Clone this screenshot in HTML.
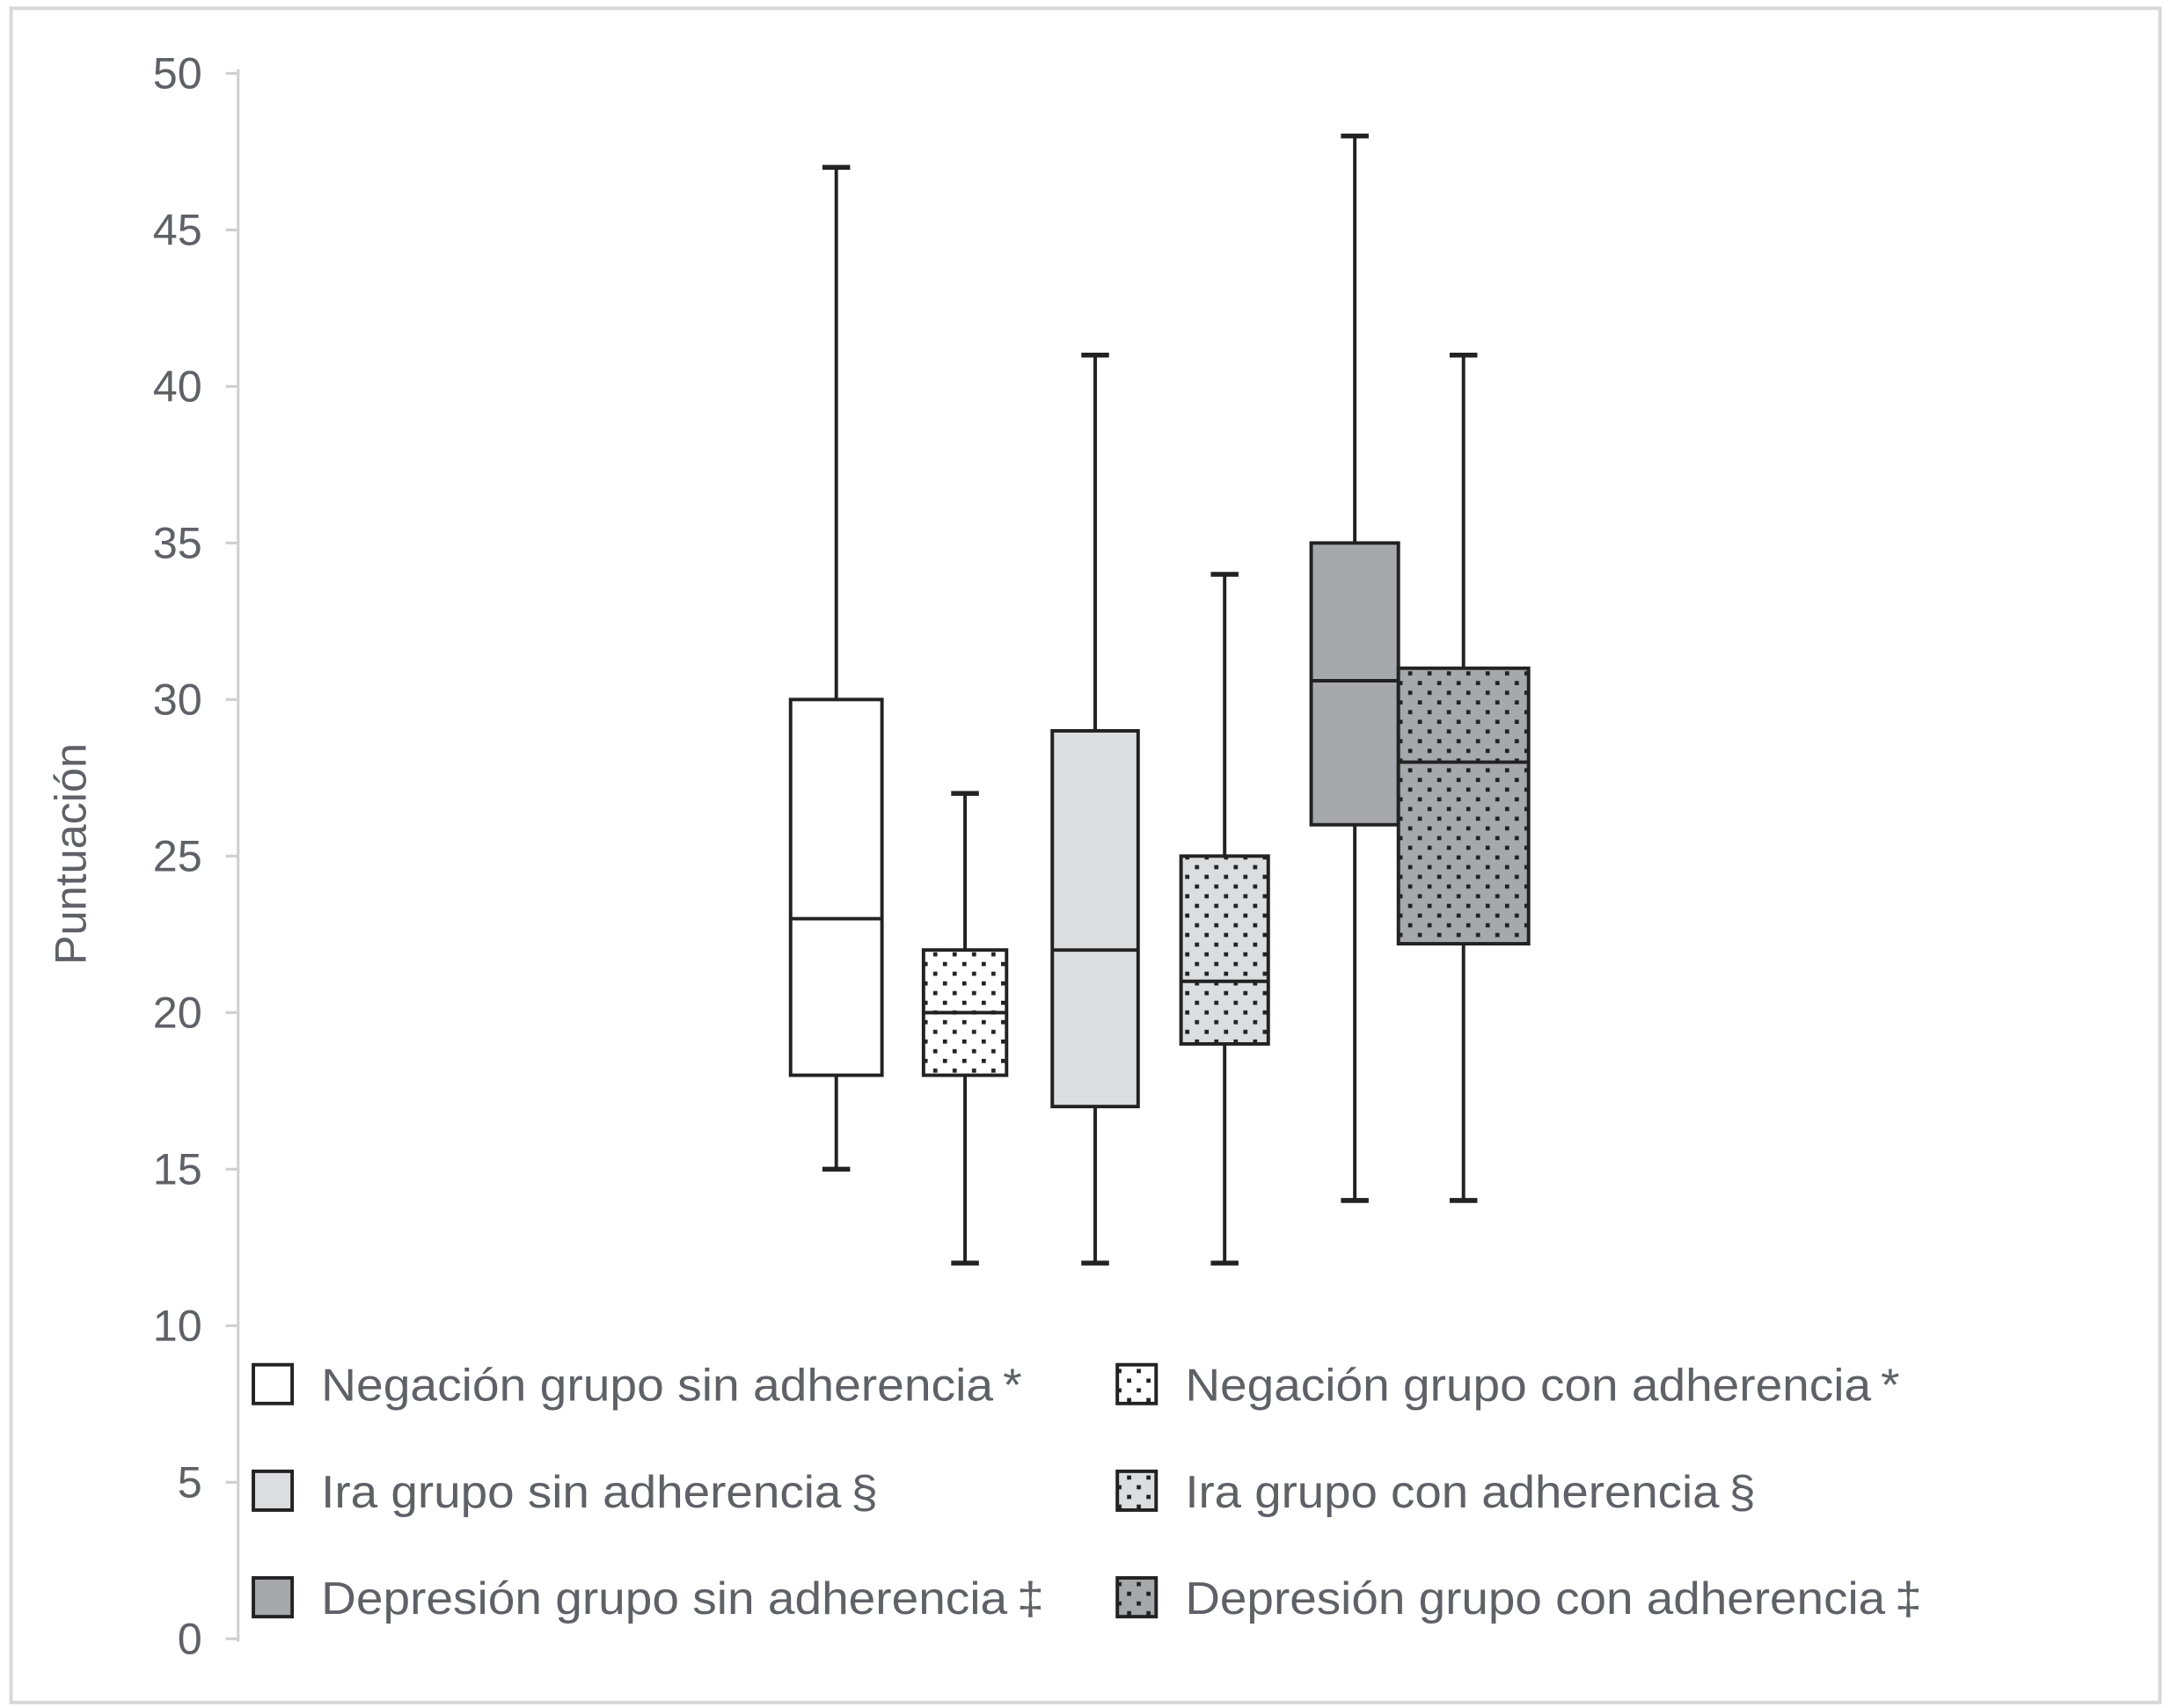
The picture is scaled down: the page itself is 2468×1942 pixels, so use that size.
<!DOCTYPE html>
<html><head><meta charset="utf-8"><style>
html,body{margin:0;padding:0;background:#fff;}
svg{display:block;}
text{font-family:"Liberation Sans",sans-serif;fill:#5f6166;}
</style></head><body>
<svg id="chart" width="2468" height="1942" viewBox="0 0 1568 1234" preserveAspectRatio="none" xmlns="http://www.w3.org/2000/svg">
<defs>
<pattern id="dotsW" width="14" height="14" patternUnits="userSpaceOnUse"><rect width="14" height="14" fill="#fff"/><rect x="2" y="2" width="3" height="3" fill="#222"/><rect x="9" y="9" width="3" height="3" fill="#222"/></pattern>
<pattern id="dotsL" width="14" height="14" patternUnits="userSpaceOnUse"><rect width="14" height="14" fill="#dcdddf"/><rect x="2" y="2" width="3" height="3" fill="#222"/><rect x="9" y="9" width="3" height="3" fill="#222"/></pattern>
<pattern id="dotsD" width="14" height="14" patternUnits="userSpaceOnUse"><rect width="14" height="14" fill="#a7a8ab"/><rect x="2" y="2" width="3" height="3" fill="#222"/><rect x="9" y="9" width="3" height="3" fill="#222"/></pattern>
</defs>
<rect x="8" y="6" width="1552" height="1224" fill="#fff" stroke="#d8d8d8" stroke-width="2.5"/>
<line x1="172" y1="50" x2="172" y2="1186" stroke="#d0d0d0" stroke-width="2"/>
<g id="yticks"></g>
<text transform="translate(62,617) rotate(-90)" text-anchor="middle" font-size="32">Puntuación</text>
<g id="boxes"></g>
<g id="legend"></g>
</svg>
<script>
const categories = ["Negación grupo sin adherencia\u2009*","Negación grupo con adherencia\u2009*","Ira grupo sin adherencia\u2009§","Ira grupo con adherencia\u2009§","Depresión grupo sin adherencia\u2009‡","Depresión grupo con adherencia\u2009‡"];
const mins = [15,12,12,12,14,14];
const q1s = [18,18,17,19,26,22.2];
const medians = [23,20,22,21,30.6,28];
const q3s = [30,22,29,25,35,31];
const maxs = [47,27,41,34,48,41];
const yTicks = [0,5,10,15,20,25,30,35,40,45,50];
const fills = ["#fff","url(#dotsW)","#dcdddf","url(#dotsL)","#a7a8ab","url(#dotsD)"];
const boxLeft = [571,667,760,853,947,1010];
const boxRight = [637,727,822,916,1010,1104];
const legendWidths = [506,516,402,412,522,532];
const NS = "http://www.w3.org/2000/svg";
function y(v){return 1184 - v*(1184-53)/50;}
function mk(tag, attrs, parent){const e=document.createElementNS(NS,tag);for(const k in attrs)e.setAttribute(k,attrs[k]);parent.appendChild(e);return e;}
const yt=document.getElementById('yticks');
yTicks.forEach(t=>{
  const l=mk('line',{x1:163,x2:172,y1:y(t),y2:y(t),stroke:'#d0d0d0','stroke-width':2},yt);
  
  
  const tx=mk('text',{x:146,y:y(t)+11,'text-anchor':'end','font-size':32},yt);
  tx.textContent=t;
  
  
});
const bx=document.getElementById('boxes');
categories.forEach((c,i)=>{
  const g=mk('g',{},bx);
  
  
  const cx=(boxLeft[i]+boxRight[i])/2;
  const st={stroke:'#222','stroke-width':2.5};
  mk('line',Object.assign({x1:cx,x2:cx,y1:y(maxs[i]),y2:y(q3s[i])},st),g);
  mk('line',Object.assign({x1:cx,x2:cx,y1:y(q1s[i]),y2:y(mins[i])},st),g);
  mk('line',Object.assign({x1:cx-10,x2:cx+10,y1:y(maxs[i]),y2:y(maxs[i])},st,{'stroke-width':3.5}),g);
  mk('line',Object.assign({x1:cx-10,x2:cx+10,y1:y(mins[i]),y2:y(mins[i])},st,{'stroke-width':3.5}),g);
  mk('rect',Object.assign({x:boxLeft[i],y:y(q3s[i]),width:boxRight[i]-boxLeft[i],height:y(q1s[i])-y(q3s[i]),fill:fills[i]},st),g);
  mk('line',Object.assign({x1:boxLeft[i],x2:boxRight[i],y1:y(medians[i]),y2:y(medians[i])},st),g);
});
const lg=document.getElementById('legend');
const order=[0,2,4,1,3,5];
order.forEach((ci,k)=>{
  const col=Math.floor(k/3), row=k%3;
  const sx=col?807:183, ty=1000+row*77;
  const g=mk('g',{},lg);
  
  
  mk('rect',{x:sx,y:ty-14,width:28,height:28,fill:fills[ci],stroke:'#222','stroke-width':2.5},g);
  const tx=mk('text',{x:sx+49,y:ty+12,'font-size':33,textLength:legendWidths[ci],lengthAdjust:'spacingAndGlyphs'},g);
  tx.textContent=categories[ci];
});
</script>
</body></html>
